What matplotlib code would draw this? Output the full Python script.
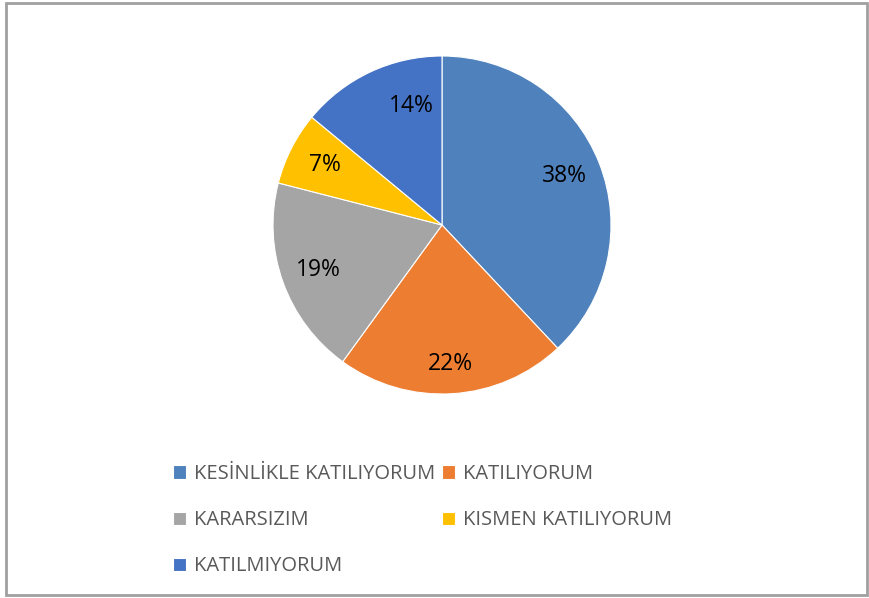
import matplotlib.pyplot as plt
from matplotlib.patches import Rectangle

labels = ['KESİNLİKLE KATILIYORUM', 'KATILIYORUM', 'KARARSIZIM',
          'KISMEN KATILIYORUM', 'KATILMIYORUM']
values = [38, 22, 19, 7, 14]
colors = ['#4F81BD', '#ED7D31', '#A5A5A5', '#FFC000', '#4472C4']

plt.rcParams['font.family'] = ['Open Sans', 'DejaVu Sans']

fig = plt.figure(figsize=(8.7, 5.98), dpi=100)

# frame around the chart
fig.patches.append(Rectangle((6 / 870, 3 / 598), 861 / 870, 592 / 598,
                             transform=fig.transFigure, fill=False,
                             edgecolor='#A0A0A0', linewidth=2))

# pie: centre (442, 225), radius 169 px
r = 169
ax = fig.add_axes([(442 - r) / 870, 1 - (225 + r) / 598, 2 * r / 870, 2 * r / 598])
wedges, texts, autotexts = ax.pie(values, colors=colors, startangle=90, counterclock=False,
                                  autopct='%1.0f%%', pctdistance=0.78,
                                  wedgeprops=dict(edgecolor='white', linewidth=0.8),
                                  textprops=dict(fontsize=16.5, color='black'))
# nudge a couple of labels, like Excel's best fit
x, y = autotexts[4].get_position()
autotexts[4].set_position((x * 0.55, y))
x, y = autotexts[1].get_position()
autotexts[1].set_position((x, y * 1.06))
ax.set_xlim(-1, 1)
ax.set_ylim(-1, 1)
ax.set_aspect('equal')

# legend filled row by row (matplotlib fills column by column)
order = [0, 2, 4, 1, 3]
leg = fig.legend([wedges[i] for i in order], [labels[i] for i in order],
                 ncol=2, loc='upper left',
                 bbox_to_anchor=(155 / 870, 1 - 446 / 598),
                 frameon=False, fontsize=14.5, labelcolor='#595959',
                 handlelength=0.65, handleheight=0.65, handletextpad=0.4,
                 columnspacing=0.3, labelspacing=1.3)

fig.savefig('out.png', dpi=100)
